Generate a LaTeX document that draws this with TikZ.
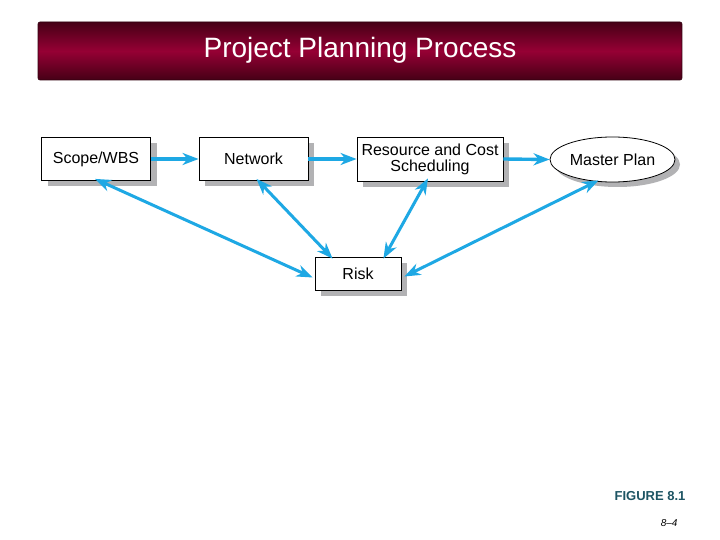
\documentclass[tikz,border=0pt]{standalone}
\usepackage{fontspec}
\setmainfont{Liberation Sans}
\usetikzlibrary{shapes.geometric,shadows,arrows.meta}
\definecolor{arrowblue}{RGB}{30,168,228}
\definecolor{shadowgray}{RGB}{178,178,180}
\definecolor{bardark}{RGB}{70,0,22}
\definecolor{barmid}{RGB}{150,0,52}
\definecolor{figteal}{RGB}{30,85,100}
\tikzset{
  procbox/.style={draw=black, line width=0.8pt, fill=white, inner sep=0pt, align=center,
    font=\fontsize{16}{16}\selectfont,
    drop shadow={shadow xshift=6pt, shadow yshift=-6pt, fill=shadowgray, opacity=1}},
  planell/.style={ellipse, draw=black, line width=0.8pt, fill=white, inner sep=0pt,
    font=\fontsize{16}{16}\selectfont,
    drop shadow={shadow xshift=5pt, shadow yshift=-5pt, fill=shadowgray, opacity=1}},
  flow/.style={draw=arrowblue, line width=3.4pt, -{Stealth[length=16pt,width=12pt,inset=5pt]}},
  biflow/.style={draw=arrowblue, line width=3pt, {Stealth[length=16pt,width=12pt,inset=5pt]}-{Stealth[length=16pt,width=12pt,inset=5pt]}}
}
\begin{document}
\begin{tikzpicture}[x=1pt,y=-1pt]
\useasboundingbox (0,0) rectangle (720,540);
\fill[white] (0,0) rectangle (720,540);
% title bar
\shade[top color=bardark, bottom color=bardark, middle color=barmid, rounded corners=2pt]
  (38,22) rectangle (682,80);
\draw[bardark!70!black, line width=0.6pt, rounded corners=2pt] (38,22) rectangle (682,80);
\node[text=white, font=\fontsize{28}{28}\selectfont] (title) at (360,50) {Project Planning Process};
% nodes
\node[procbox, minimum width=109pt, minimum height=43pt] (scope) at (96,159) {Scope/WBS};
\node[procbox, minimum width=109pt, minimum height=43pt] (net) at (253.5,159) {Network};
\node[procbox, minimum width=146pt, minimum height=44pt] (res) at (430,159) {Resource and Cost\\[0pt]Scheduling};
\node[planell, minimum width=125pt, minimum height=45pt] (master) at (612.5,159.5) {Master Plan};
\node[procbox, minimum width=86pt, minimum height=33pt] (risk) at (358,273.5) {Risk};
% connectors
\draw[flow] (scope.east) -- (net.west);
\draw[flow] (net.east) -- (res.west);
\draw[flow] (res.east) -- (master.west);
\draw[biflow] ([xshift=-1pt,yshift=2pt]scope.south) -- ([xshift=-2pt,yshift=-4pt]risk.west);
\draw[biflow] ([xshift=3pt,yshift=2pt]net.south) -- ([xshift=18pt,yshift=-2pt]risk.north west);
\draw[biflow] ([xshift=-2pt,yshift=3pt]res.south) -- ([xshift=-18pt,yshift=-2pt]risk.north east);
\draw[biflow] ([xshift=-14pt,yshift=2pt]master.south) -- ([xshift=3pt,yshift=-3pt]risk.east);
% captions
\node[anchor=east, text=figteal, font=\bfseries\fontsize{13}{13}\selectfont] (fig) at (689,496) {FIGURE 8.1};
\node[anchor=east, font=\itshape\fontsize{10}{10}\selectfont] (pg) at (681,523) {8–4};
\end{tikzpicture}
\end{document}
